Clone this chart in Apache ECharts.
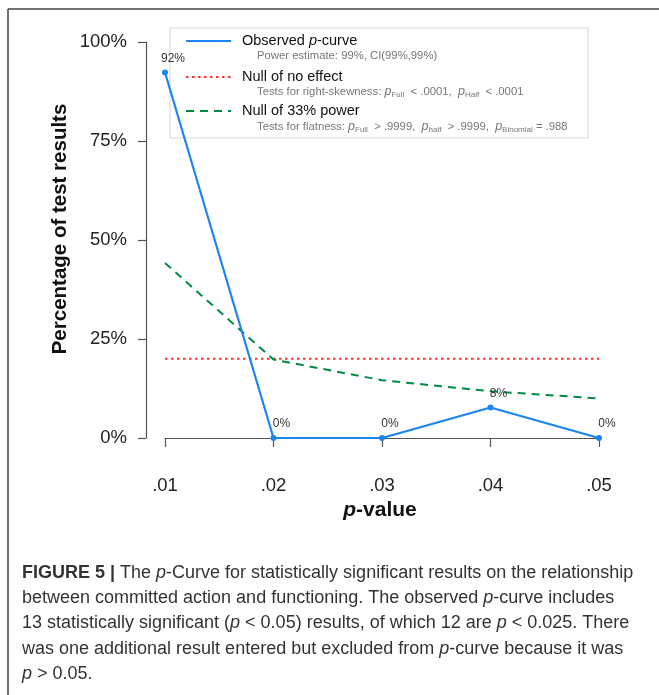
<!DOCTYPE html>
<html><head><meta charset="utf-8">
<script src="https://cdn.jsdelivr.net/npm/echarts@6/dist/echarts.min.js"></script>
<style>html,body{margin:0;padding:0;background:#fff}#c{width:659px;height:695px}</style>
</head><body><div id="c"></div>
<script>
const categories = ['.01', '.02', '.03', '.04', '.05'];
const observed = [92.31, 0, 0, 7.69, 0];
const nullNoEffect = [20, 20, 20, 20, 20];
const null33 = [44.2, 19.8, 14.6, 11.8, 10.0];
const yTicks = [0, 25, 50, 75, 100];

const F = 'Liberation Sans, Arial, Helvetica, sans-serif';
const chart = echarts.init(document.getElementById('c'));

const legendX = 186, legendTextX = 242, subX = 257;
const captionLines = [
  [{t:'FIGURE 5 | ', s:'b'}, {t:'The '}, {t:'p', s:'i'}, {t:'-Curve for statistically significant results on the relationship'}],
  [{t:'between committed action and functioning. The observed '}, {t:'p', s:'i'}, {t:'-curve includes'}],
  [{t:'13 statistically significant ('}, {t:'p', s:'i'}, {t:' < 0.05) results, of which 12 are '}, {t:'p', s:'i'}, {t:' < 0.025. There'}],
  [{t:'was one additional result entered but excluded from '}, {t:'p', s:'i'}, {t:'-curve because it was'}],
  [{t:'p', s:'i'}, {t:' > 0.05.'}]
];
function rich(parts){ return parts.map(p => p.s ? '{' + p.s + '|' + p.t + '}' : '{n|' + p.t + '}').join(''); }

const subRich = {n:{fontFamily:F, fontSize:11.3, fill:'#777'}, i:{fontFamily:F, fontSize:12.5, fill:'#777', fontStyle:'italic'}, s:{fontFamily:F, fontSize:8, fill:'#777', padding:[5,0,0,0]}};
const graphics = [
  {type:'line', shape:{x1:8, y1:9, x2:659, y2:9}, style:{stroke:'#444', lineWidth:1.5}, silent:true},
  {type:'line', shape:{x1:8, y1:9, x2:8, y2:695}, style:{stroke:'#444', lineWidth:1.5}, silent:true},
  {type:'rect', shape:{x:170, y:28, width:418, height:110}, style:{fill:'#fff', stroke:'#dcdcdc', lineWidth:1.2}, z:-10},
  {type:'line', shape:{x1:legendX, y1:41, x2:231, y2:41}, style:{stroke:'#1C86EE', lineWidth:2}, z:-9},
  {type:'line', shape:{x1:legendX, y1:77, x2:231, y2:77}, style:{stroke:'#FF3030', lineWidth:2, lineDash:[2.5,3.5]}, z:-9},
  {type:'line', shape:{x1:legendX, y1:111, x2:231, y2:111}, style:{stroke:'#008B45', lineWidth:2, lineDash:[8,6]}, z:-9},
  {type:'text', x:legendTextX, y:41, z:-9, style:{text:'{n|Observed }{i|p}{n|-curve}', verticalAlign:'middle',
    rich:{n:{fontFamily:F, fontSize:14.5, fill:'#111'}, i:{fontFamily:F, fontSize:14.5, fill:'#111', fontStyle:'italic'}}}},
  {type:'text', x:subX, y:56, z:-9, style:{text:'Power estimate: 99%, CI(99%,99%)', fontFamily:F, fontSize:11.3, fill:'#777', verticalAlign:'middle'}},
  {type:'text', x:legendTextX, y:77, z:-9, style:{text:'Null of no effect', fontFamily:F, fontSize:14.5, fill:'#111', verticalAlign:'middle'}},
  {type:'text', x:subX, y:92, z:-9, style:{text:'{n|Tests for right-skewness: }{i|p}{s|Full}{n|  < .0001,  }{i|p}{s|Half}{n|  < .0001}', verticalAlign:'middle', rich:subRich}},
  {type:'text', x:legendTextX, y:111, z:-9, style:{text:'Null of 33% power', fontFamily:F, fontSize:14.5, fill:'#111', verticalAlign:'middle'}},
  {type:'text', x:subX, y:127, z:-9, style:{text:'{n|Tests for flatness: }{i|p}{s|Full}{n|  > .9999,  }{i|p}{s|half}{n|  > .9999,  }{i|p}{s|Binomial}{n| = .988}', verticalAlign:'middle', rich:subRich}},
  {type:'text', x:380, y:510, style:{text:'{i|p}{b|-value}', align:'center', verticalAlign:'middle',
    rich:{i:{fontFamily:F, fontSize:21, fontWeight:'bold', fontStyle:'italic', fill:'#111'}, b:{fontFamily:F, fontSize:21, fontWeight:'bold', fill:'#111'}}}},
  {type:'text', x:60, y:229, rotation:Math.PI/2, style:{text:'Percentage of test results', align:'center', verticalAlign:'middle',
    fontFamily:F, fontSize:20.5, fontWeight:'bold', fill:'#111'}}
];
captionLines.forEach((ln, i) => {
  graphics.push({type:'text', x:22, y:573 + i*25.2, style:{text:rich(ln), verticalAlign:'middle',
    rich:{n:{fontFamily:F, fontSize:18, fill:'#333'}, i:{fontFamily:F, fontSize:18, fill:'#333', fontStyle:'italic'}, b:{fontFamily:F, fontSize:18, fill:'#333', fontWeight:'bold'}}}});
});

chart.setOption({
  animation:false,
  grid:{left:165, right:60, top:42, bottom:257},
  xAxis:{type:'category', data:categories, boundaryGap:false, offset:17,
    axisLine:{lineStyle:{color:'#555', width:1.2}}, axisTick:{length:9, alignWithLabel:true, lineStyle:{color:'#555', width:1.2}},
    axisLabel:{fontFamily:F, fontSize:18.5, color:'#222', margin:21}, splitLine:{show:false}},
  yAxis:{type:'value', min:0, max:100, interval:25, offset:19,
    axisLine:{show:true, lineStyle:{color:'#555', width:1.2}}, axisTick:{show:true, length:8, lineStyle:{color:'#555', width:1.2}},
    axisLabel:{fontFamily:F, fontSize:18.5, color:'#222', margin:19, formatter:v => yTicks.includes(v) ? v + '%' : ''},
    splitLine:{show:false}},
  series:[
    {type:'line', data:nullNoEffect, symbol:'none', lineStyle:{color:'#FF3030', width:2, type:[2.5,3.5]}, z:2, silent:true},
    {type:'line', data:null33, symbol:'none', lineStyle:{color:'#008B45', width:2, type:[8,6]}, z:2, silent:true},
    {type:'line', data:observed, symbol:'circle', symbolSize:6, itemStyle:{color:'#1C86EE'}, lineStyle:{color:'#1C86EE', width:2.2}, z:3,
      label:{show:true, position:'top', distance:4, offset:[8,-1], fontFamily:F, fontSize:12, color:'#333', formatter:p => Math.round(p.value) + '%'}}
  ],
  graphic:graphics
});
</script></body></html>
